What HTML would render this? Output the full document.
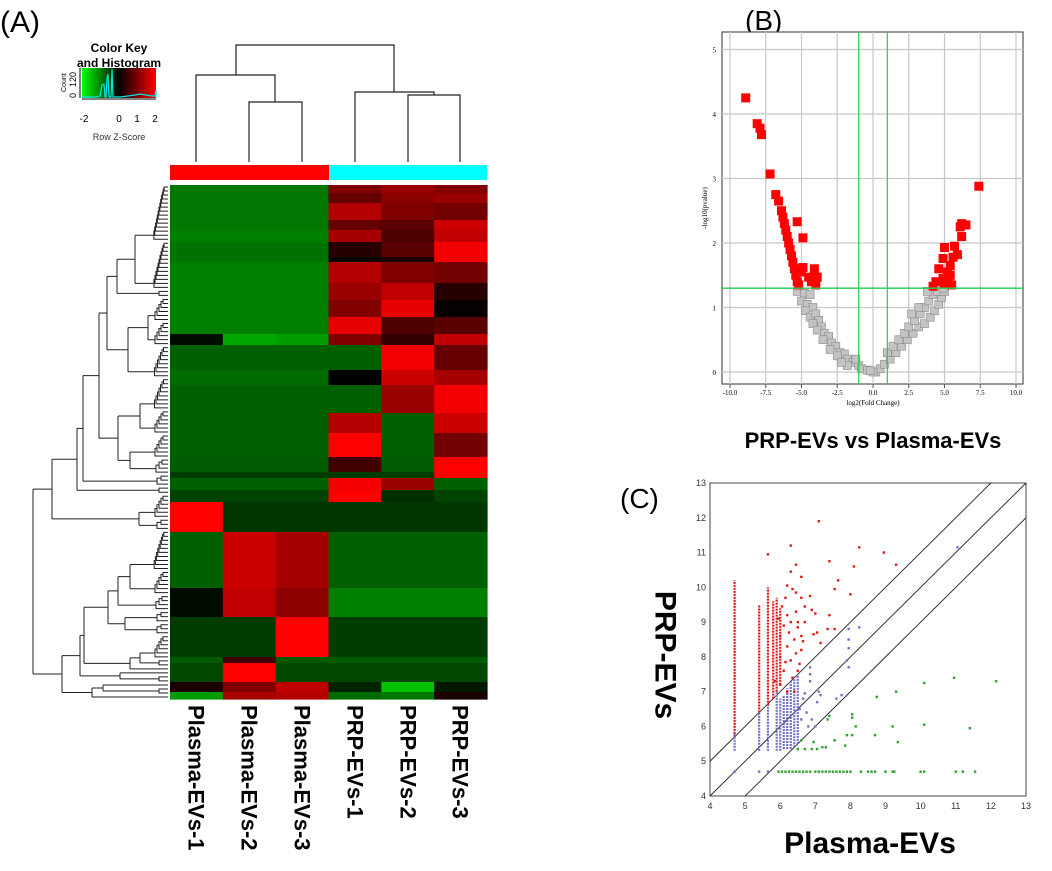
<!DOCTYPE html>
<html><head><meta charset="utf-8">
<style>
html,body{margin:0;padding:0;background:#fff;}
svg{display:block;font-family:"Liberation Sans",sans-serif;}
</style></head>
<body>
<svg id="fig" width="1052" height="871" viewBox="0 0 1052 871" xmlns="http://www.w3.org/2000/svg">
  <text x="0" y="32" font-size="30">(A)</text>
  <text x="745" y="30" font-size="28">(B)</text>
  <text x="620" y="508" font-size="28">(C)</text>

  <!-- Color key -->
  <g>
    <defs>
      <linearGradient id="zgrad" x1="0" x2="1" y1="0" y2="0">
        <stop offset="0" stop-color="#00ff00"/>
        <stop offset="0.5" stop-color="#000"/>
        <stop offset="1" stop-color="#ff0000"/>
      </linearGradient>
    </defs>
    <text x="119" y="52" font-size="12" font-weight="bold" text-anchor="middle">Color Key</text>
    <text x="119" y="67" font-size="12" font-weight="bold" text-anchor="middle">and Histogram</text>
    <rect x="82" y="68" width="74" height="30" fill="url(#zgrad)"/>
    <polyline points="82,97 95,97 100,96 102,85 104,84 105,97 106,97 107,78 108,74 109,97 111,97 112,69 113,97 120,97 128,96 135,95 140,94 146,95 152,96 155,96 156,90 156,98" fill="none" stroke="#00e5e5" stroke-width="1.2"/>
    <line x1="80" y1="68" x2="80" y2="98" stroke="#000"/>
    <text transform="translate(76,98) rotate(-90)" font-size="9">0</text>
    <text transform="translate(76,87) rotate(-90)" font-size="9">120</text>
    <text transform="translate(66,92) rotate(-90)" font-size="7">Count</text>
    <line x1="82" y1="99" x2="156" y2="99" stroke="#000"/>
    <g font-size="10" text-anchor="middle">
      <text x="84" y="122">-2</text>
      <text x="119" y="122">0</text>
      <text x="137" y="122">1</text>
      <text x="155" y="122">2</text>
    </g>
    <text x="119" y="140" font-size="9" text-anchor="middle" fill="#333">Row Z-Score</text>
  </g>

  <!-- Column dendrogram -->
  <g stroke="#222" stroke-width="1.2" fill="none">
    <path d="M236,75 V45 H394 V92"/>
    <path d="M196,162 V75 H275 V102"/>
    <path d="M249,162 V102 H302 V162"/>
    <path d="M355,162 V92 H434 V95"/>
    <path d="M408,162 V95 H460 V162"/>
  </g>
  <rect x="170" y="165" width="159" height="15" fill="#ff0000"/>
  <rect x="329" y="165" width="158" height="15" fill="#00ffff"/>

  <g id="heatmap"></g>
  <g id="rowdend" stroke="#222" stroke-width="1" fill="none"></g>

  <g font-size="22" font-weight="bold">
    <text transform="translate(196,705) rotate(90)" dominant-baseline="central">Plasma-EVs-1</text>
    <text transform="translate(249,705) rotate(90)" dominant-baseline="central">Plasma-EVs-2</text>
    <text transform="translate(302,705) rotate(90)" dominant-baseline="central">Plasma-EVs-3</text>
    <text transform="translate(355,705) rotate(90)" dominant-baseline="central">PRP-EVs-1</text>
    <text transform="translate(408,705) rotate(90)" dominant-baseline="central">PRP-EVs-2</text>
    <text transform="translate(460,705) rotate(90)" dominant-baseline="central">PRP-EVs-3</text>
  </g>

  <!-- Volcano -->
  <g id="volcano"></g>
  <text x="873" y="448" font-size="22" font-weight="bold" text-anchor="middle">PRP-EVs vs Plasma-EVs</text>

  <!-- Scatter -->
  <g id="scatter"></g>
  <text x="870" y="853" font-size="30" font-weight="bold" text-anchor="middle">Plasma-EVs</text>
  <text transform="translate(665,655) rotate(90)" font-size="30" font-weight="bold" text-anchor="middle" dominant-baseline="central">PRP-EVs</text>
</svg>
<script>
const NS = "http://www.w3.org/2000/svg";
function mk(tag, attrs, parent) {
  const e = document.createElementNS(NS, tag);
  for (const k in attrs) e.setAttribute(k, attrs[k]);
  parent.appendChild(e);
  return e;
}

// ---------- Heatmap data ----------
const heatSamples = ["Plasma-EVs-1","Plasma-EVs-2","Plasma-EVs-3","PRP-EVs-1","PRP-EVs-2","PRP-EVs-3"];
const heatRowSpan = [8,10,17,10,12,15,5,21,17,17,17,11,25,15,28,20,24,15,6,12,12,30,56,29,40,6,19,10,7];
const zPlasma1 = [-1,-1,-1,-1,-1.05,-0.95,-0.95,-1.05,-1.05,-1.05,-1.05,-0.1,-0.8,-0.9,-0.8,-0.8,-0.8,-0.75,-0.5,-0.8,-0.55,2.0,-0.8,-0.1,-0.5,-0.75,-0.6,0.2,-1.3];
const zPlasma2 = [-1,-1,-1,-1,-1.05,-0.95,-0.95,-1.05,-1.05,-1.05,-1.05,-1.4,-0.8,-0.9,-0.8,-0.8,-0.8,-0.75,-0.5,-0.8,-0.55,-0.45,1.6,1.5,-0.5,0.5,2.0,1.0,1.3];
const zPlasma3 = [-1,-1,-1,-1,-1.05,-0.95,-0.95,-1.05,-1.05,-1.05,-1.05,-1.3,-0.8,-0.9,-0.8,-0.8,-0.8,-0.75,-0.5,-0.8,-0.55,-0.45,1.3,1.1,2.0,-0.75,-0.6,1.5,1.4];
const zPrp1 = [1.0,0.8,1.4,0.8,1.3,0.3,0.05,1.4,1.2,1.0,1.8,1.0,-0.8,0.0,-0.8,1.4,2.0,0.5,-0.5,1.9,2.0,-0.45,-0.8,-1.05,-0.5,-0.75,-0.6,-0.3,-0.9];
const zPrp2 = [1.2,1.1,1.0,0.7,0.6,0.7,0.2,1.0,1.5,1.8,0.6,0.4,1.9,1.6,1.2,-0.8,-0.8,-0.75,-0.5,1.2,-0.4,-0.45,-0.8,-1.05,-0.5,-0.75,-0.6,-1.6,-1.0];
const zPrp3 = [1.0,1.2,0.9,1.6,1.5,1.9,1.9,0.9,0.3,0.05,0.7,1.5,0.8,1.3,1.9,1.6,0.9,2.0,2.0,-0.8,-0.55,-0.45,-0.8,-1.05,-0.5,-0.75,-0.6,-0.2,0.2];
const zCols = [zPlasma1,zPlasma2,zPlasma3,zPrp1,zPrp2,zPrp3];

function zColor(z) {
  if (z < 0) { const g = Math.min(255, Math.round(-z * 120)); return `rgb(0,${g},0)`; }
  const r = Math.min(255, Math.round(z * 128)); return `rgb(${r},0,0)`;
}
(function drawHeat() {
  const g = document.getElementById("heatmap");
  const x0 = 170, x1 = 487, y0 = 185, y1 = 699;
  const total = heatRowSpan.reduce((a,b)=>a+b,0);
  const cw = (x1 - x0) / heatSamples.length;
  let acc = 0;
  heatRowSpan.forEach((s, i) => {
    const yy = y0 + acc / total * (y1 - y0);
    const hh = s / total * (y1 - y0);
    zCols.forEach((col, j) => {
      const r = mk("rect", {x: (x0 + j*cw).toFixed(2), y: yy.toFixed(2), width: (cw+0.6).toFixed(2), height: (hh+0.6).toFixed(2), fill: zColor(col[i])}, g);
      
      
    });
    acc += s;
  });
})();

// ---------- Row dendrogram ----------
function N(x, kids) { return {x, kids}; }
function G(n) { return {g: n}; }
const rowTree = N(33, [
  N(52, [
    N(77, [
      N(83, [
        N(99, [
          N(107, [ N(117, [ N(135, [G(14), G(12)]), G(2)]), N(128, [N(148, [G(6), G(6)]), G(8)]) ]),
          N(118, [ N(140, [G(8), G(6)]), N(130, [G(6), G(4)]) ])
        ]),
        G(3)
      ]),
      G(2)
    ]),
    N(139, [G(6), G(3)])
  ]),
  N(62, [
    N(80, [
      N(84, [
        N(108, [ N(118, [ N(130, [G(10), G(6)]), G(4)]), N(125, [G(3), G(3)]) ]),
        N(130, [ N(140, [G(6), G(2)]), G(1)])
      ]),
      N(120, [G(1), G(2)])
    ]),
    N(92, [ N(103, [G(1), G(2)]), G(1)])
  ])
]);
(function drawDend() {
  const g = document.getElementById("rowdend");
  let leafIdx = 0;
  function count(n) { return n.g !== undefined ? n.g : n.kids.reduce((a,k)=>a+count(k),0); }
  const total = count(rowTree);
  const step = 514 / total;
  const leafX = 168;
  let d = "";
  function lay(n) {
    if (n.g !== undefined) {
      const ys = [];
      for (let i = 0; i < n.g; i++) { ys.push(185 + (leafIdx + 0.5) * step); leafIdx++; }
      if (n.g === 1) return {x: leafX, y: ys[0]};
      // comb
      let cy = ys[0], cx = leafX;
      for (let i = 1; i < ys.length; i++) {
        const mx = leafX - 3 - i * (12 / ys.length);
        d += `M${cx},${cy}H${mx}V${ys[i]}H${leafX}`;
        cy = (cy + ys[i]) / 2; cx = mx;
      }
      return {x: cx, y: cy};
    }
    const ch = n.kids.map(lay);
    const ymin = Math.min(...ch.map(c=>c.y)), ymax = Math.max(...ch.map(c=>c.y));
    ch.forEach(c => { d += `M${c.x},${c.y}H${n.x}`; });
    d += `M${n.x},${ymin}V${ymax}`;
    return {x: n.x, y: (ymin + ymax) / 2};
  }
  lay(rowTree);
  mk("path", {d, "stroke-width": 1}, g);
})();

// ---------- Volcano ----------
const volXTicks = [-10, -7.5, -5, -2.5, 0, 2.5, 5, 7.5, 10];
const volXTickLabels = ["-10.0","-7.5","-5.0","-2.5","0.0","2.5","5.0","7.5","10.0"];
const volYTicks = [0,1,2,3,4,5];
const volRedX = [-8.9,-8.1,-7.9,-7.8,-7.2,-6.8,-6.6,-6.4,-6.3,-6.2,-6.1,-6.0,-5.9,-5.8,-5.7,-5.6,-5.5,-5.4,-5.3,-5.2,-5.3,-4.9,-4.9,-5.0,-4.5,-4.1,-3.9,-4.3,-4.0,7.4,6.2,6.5,6.1,6.2,5.7,5.0,5.9,5.6,4.9,5.4,4.6,5.2,5.4,4.9,5.3,4.4,5.0,5.5,4.2];
const volRedY = [4.25,3.85,3.78,3.68,3.07,2.75,2.65,2.5,2.4,2.3,2.2,2.1,2.0,1.9,1.8,1.7,1.6,1.5,1.4,1.35,2.33,2.08,1.62,1.55,1.47,1.6,1.47,1.4,1.35,2.88,2.3,2.28,2.25,2.1,1.95,1.93,1.82,1.78,1.76,1.65,1.6,1.55,1.5,1.45,1.42,1.4,1.38,1.35,1.33];
const volGrayX = [-5.3,-4.8,-4.4,-5.0,-4.6,-4.2,-4.7,-4.4,-4.0,-3.8,-4.2,-3.6,-3.9,-3.4,-3.1,-3.5,-2.9,-2.6,-3.0,-2.3,-2.0,-2.5,-1.8,-1.4,-1.8,-1.0,-0.8,-0.4,-1.2,-2.2,0.2,0.5,0.8,1.2,1.0,1.6,1.4,2.0,1.8,2.4,2.2,2.8,2.5,3.2,2.9,3.6,3.3,4.0,3.6,4.3,3.9,4.6,4.2,4.8,4.5,5.0,3.2,2.7,4.9,3.8,0.0,-0.2];
const volGrayY = [1.25,1.22,1.2,1.1,1.05,1.0,0.95,0.85,0.9,0.8,0.75,0.7,0.65,0.6,0.55,0.5,0.45,0.4,0.35,0.3,0.28,0.25,0.2,0.15,0.1,0.1,0.05,0.03,0.2,0.15,0.0,0.05,0.12,0.2,0.3,0.3,0.4,0.4,0.5,0.5,0.6,0.6,0.7,0.7,0.8,0.75,0.9,0.85,1.0,0.95,1.1,1.05,1.2,1.15,1.25,1.25,1.0,0.9,1.3,1.25,0.0,0.02];
const volPThreshold = 1.3;
const volFcThreshold = [-1, 1];

(function drawVolcano() {
  const g = document.getElementById("volcano");
  const L = 722, R = 1023, T = 32, B = 384;
  const sx = v => 873 + v * 14.3;
  const sy = v => 372 - v * 64.5;
  const bg = mk("rect", {x:L, y:T, width:R-L, height:B-T, fill:"#fff", stroke:"#555", "stroke-width":1.2}, g);
  
  
  volXTicks.forEach((t,i) => {
    const l = mk("line", {x1:sx(t), x2:sx(t), y1:T, y2:B, stroke:"#c8c8c8", "stroke-width":1.2}, g);
    
    
    mk("line", {x1:sx(t), x2:sx(t), y1:B, y2:B+4, stroke:"#555"}, g);
    const tx = mk("text", {x:sx(t), y:B+11, "font-size":7, "text-anchor":"middle", "font-family":"Liberation Serif, serif"}, g);
    tx.textContent = volXTickLabels[i];
    
    
  });
  volYTicks.forEach(t => {
    const l = mk("line", {x1:L, x2:R, y1:sy(t), y2:sy(t), stroke:"#c8c8c8", "stroke-width":1.2}, g);
    
    
    const tx = mk("text", {x:L-6, y:sy(t)+3, "font-size":7, "text-anchor":"end", "font-family":"Liberation Serif, serif"}, g);
    tx.textContent = String(t);
    
    
  });
  volGrayX.forEach((x,i) => {
    const r = mk("rect", {x:sx(x)-4, y:sy(volGrayY[i])-4, width:8, height:8, fill:"#c4c4c4", stroke:"#8a8a8a", "stroke-width":0.6}, g);
    
    
  });
  volRedX.forEach((x,i) => {
    const r = mk("rect", {x:sx(x)-4.5, y:sy(volRedY[i])-4.5, width:9, height:9, fill:"#ff0000"}, g);
    
    
  });
  volFcThreshold.forEach(v => {
    const l = mk("line", {x1:sx(v), x2:sx(v), y1:T, y2:B, stroke:"#22cc55", "stroke-width":1.2}, g);
    
    
  });
  const h = mk("line", {x1:L, x2:R, y1:sy(volPThreshold), y2:sy(volPThreshold), stroke:"#22cc55", "stroke-width":1.4}, g);
  
  
  const xt = mk("text", {x:873, y:B+21, "font-size":7, "text-anchor":"middle", "font-family":"Liberation Serif, serif"}, g);
  xt.textContent = "log2(Fold Change)";
  
  
  const yt = mk("text", {transform:`translate(707,208) rotate(-90)`, "font-size":7, "text-anchor":"middle", "font-family":"Liberation Serif, serif"}, g);
  yt.textContent = "-log10(pvalue)";
  
  
})();

// ---------- Scatter ----------
const scTicks = [4,5,6,7,8,9,10,11,12,13];
const scDiagOffsets = [1, 0, -1];
const redColX = [4.7,5.4,5.65,5.9,5.8,6.0];
const redColLo = [5.7,6.4,6.6,7.0,6.8,7.2];
const redColHi = [10.2,9.5,10.0,9.7,9.6,9.4];
const blueColX = [4.7,5.4,5.65,5.9,6.0,6.1,6.2,6.3,6.4,6.5];
const blueColLo = [5.3,5.3,5.3,5.3,5.3,5.35,5.35,5.35,5.4,5.5];
const blueColHi = [5.8,6.4,6.6,7.0,6.8,6.9,7.1,7.3,7.4,7.5];
const redX = [7.1,6.3,5.65,8.25,8.95,9.3,8.1,7.4,6.45,6.3,6.6,7.65,7.55,8.0,6.2,6.35,6.15,6.45,6.85,6.6,6.7,6.9,7.0,7.4,7.55,7.35,7.05,6.95,7.15,6.3,6.5,6.7,6.1,6.6,6.4,6.2,6.6,6.0,6.3,6.5,6.1,6.35,6.0,6.2,5.85,6.0,6.2,6.45,6.05,6.5,6.65,6.25,6.15,6.45,6.55,5.95,6.4];
const redY = [11.9,11.2,10.95,11.15,11.0,10.65,10.6,10.75,10.65,10.45,10.3,10.2,9.95,9.8,10.05,9.95,9.7,9.85,9.75,9.7,9.45,9.35,9.25,9.2,8.8,8.8,8.7,8.65,8.4,9.0,9.0,9.0,8.9,8.6,8.5,8.3,8.2,8.0,7.9,7.6,7.6,7.4,7.2,7.0,7.3,8.6,9.2,9.3,9.45,8.85,8.45,8.7,7.85,8.1,7.8,9.1,7.0];
const blueX = [6.85,6.85,6.85,7.1,7.15,7.05,6.7,6.65,6.9,6.8,7.6,7.75,7.0,7.95,7.95,7.95,7.9,7.95,8.25,11.05,4.7,5.4,5.65,6.55,6.6,6.75];
const blueY = [7.7,7.5,7.3,7.0,6.9,6.7,6.95,6.8,6.2,6.0,6.8,6.9,6.0,8.8,8.5,8.25,7.9,7.7,8.85,11.15,4.7,4.7,4.7,6.5,6.2,6.4];
const greenX = [5.95,6.05,6.15,6.25,6.35,6.45,6.55,6.65,6.75,6.85,7.0,7.1,7.2,7.3,7.4,7.5,7.6,7.7,7.8,7.9,8.0,8.3,8.5,8.6,8.7,9.0,9.2,9.25,10.0,10.1,11.0,11.2,11.55,10.1,10.95,12.15,9.3,8.75,7.4,7.35,8.05,8.05,8.15,9.2,10.1,11.4,7.9,8.05,8.7,9.35,7.55,6.95,7.85,6.6,6.5,6.7,6.9,7.05,7.2,7.3];
const greenY = [4.7,4.7,4.7,4.7,4.7,4.7,4.7,4.7,4.7,4.7,4.7,4.7,4.7,4.7,4.7,4.7,4.7,4.7,4.7,4.7,4.7,4.7,4.7,4.7,4.7,4.7,4.7,4.7,4.7,4.7,4.7,4.7,4.7,7.25,7.4,7.3,7.0,6.85,6.3,6.2,6.35,6.25,6.0,6.0,6.05,5.95,5.75,5.75,5.75,5.55,5.6,5.55,5.45,5.6,5.35,5.35,5.35,5.35,5.4,5.4];

(function drawScatter() {
  const g = document.getElementById("scatter");
  const L = 710, R = 1026, T = 483, B = 796;
  const sx = v => L + (v - 4) * (R - L) / 9;
  const sy = v => B - (v - 4) * (B - T) / 9;
  const box = mk("rect", {x:L, y:T, width:R-L, height:B-T, fill:"#fff", stroke:"#444", "stroke-width":1}, g);
  
  
  scTicks.forEach(t => {
    const a = mk("text", {x:sx(t), y:B+13, "font-size":9, "text-anchor":"middle", fill:"#333"}, g);
    a.textContent = String(t);
    
    
    const b = mk("text", {x:L-4, y:sy(t)+3, "font-size":9, "text-anchor":"end", fill:"#333"}, g);
    b.textContent = String(t);
    
    
  });
  const clip = mk("clipPath", {id:"scclip"}, g);
  mk("rect", {x:L, y:T, width:R-L, height:B-T}, clip);
  scDiagOffsets.forEach(o => {
    const l = mk("line", {x1:sx(4), y1:sy(4+o), x2:sx(13), y2:sy(13+o), stroke:"#333", "stroke-width":1, "clip-path":"url(#scclip)"}, g);
    
    
  });
  function cols(xs, lo, hi, color, name) {
    xs.forEach((x,i) => {
      const l = mk("line", {x1:sx(x), x2:sx(x), y1:sy(lo[i]), y2:sy(hi[i]), stroke:color, "stroke-width":2.2, "stroke-dasharray":"2 1"}, g);
      
      
    });
  }
  function pts(xs, ys, color, name) {
    xs.forEach((x,i) => {
      const c = mk("rect", {x:sx(x)-1.2, y:sy(ys[i])-1.2, width:2.4, height:2.4, fill:color}, g);
      
      
    });
  }
  cols(redColX, redColLo, redColHi, "#e01818", "scatter-up-column");
  cols(blueColX, blueColLo, blueColHi, "#7070c8", "scatter-ns-column");
  pts(redX, redY, "#e01818", "scatter-point-up");
  pts(blueX, blueY, "#7070c8", "scatter-point-ns");
  pts(greenX, greenY, "#30a030", "scatter-point-down");
})();
</script>
</body></html>
